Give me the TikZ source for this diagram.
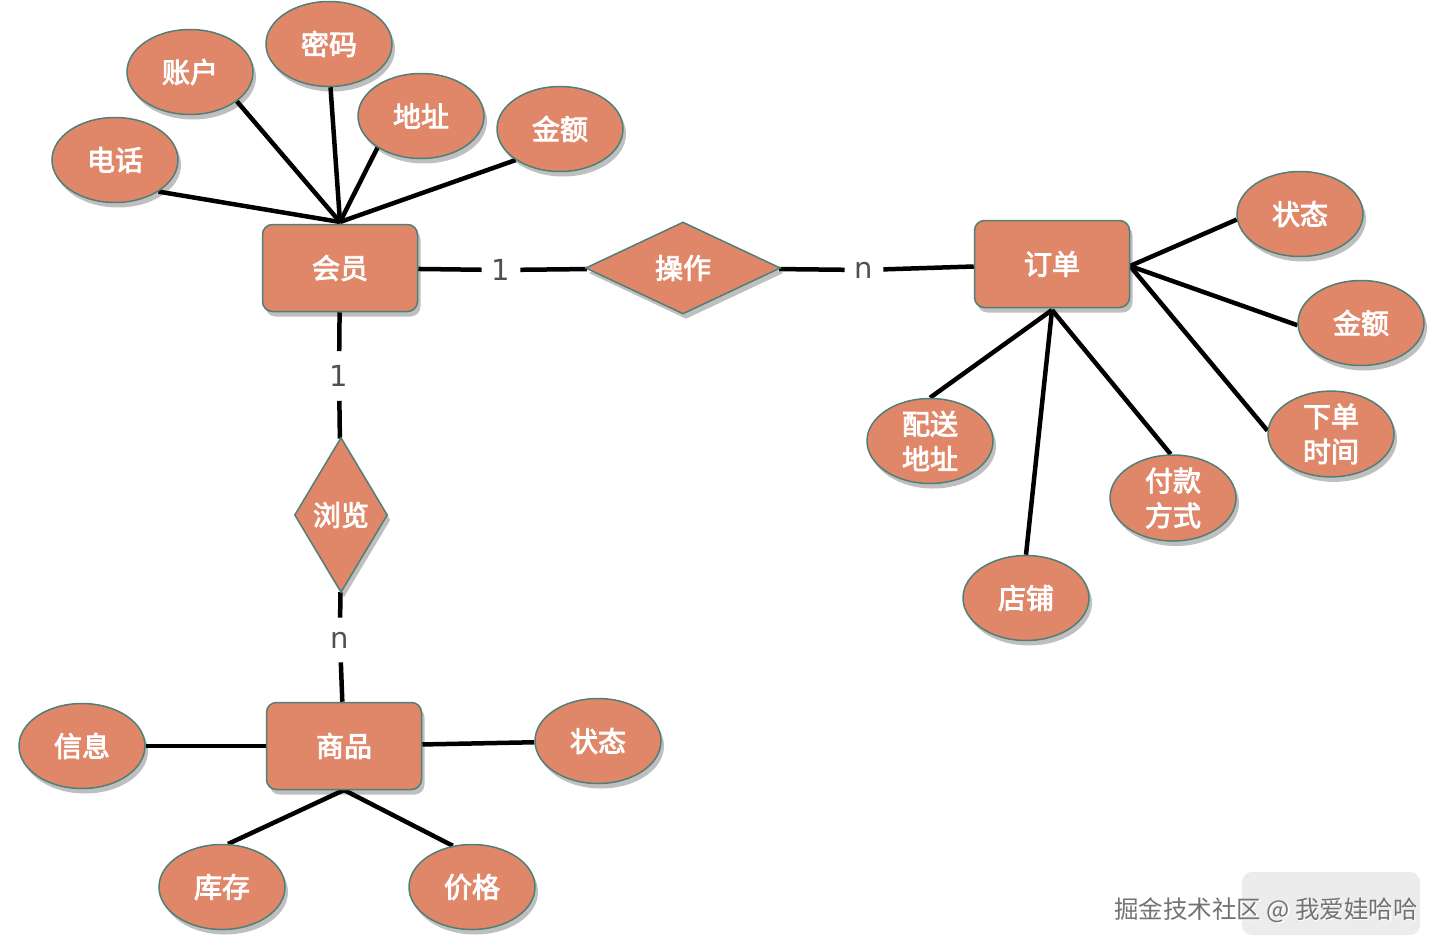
\documentclass[tikz,border=0pt]{standalone}
\usepackage{fontspec}
\newfontfamily\cjk{Noto Sans CJK SC}[AutoFakeBold=3]
\newfontfamily\lblfont{DejaVu Sans}
\usetikzlibrary{shapes.geometric,shadows}
\definecolor{salmon}{HTML}{E0876A}
\definecolor{edgeteal}{HTML}{4F7F76}
\definecolor{lblgray}{HTML}{505050}
\pgfdeclarelayer{bg}
\pgfsetlayers{bg,main}
\tikzset{
  base/.style={fill=salmon, draw=edgeteal, line width=1.5pt, text=white,
    font=\cjk\bfseries\fontsize{28}{32}\selectfont, inner sep=0pt,
    drop shadow={shadow xshift=3pt, shadow yshift=-5pt, opacity=0.25, fill=black}},
  attr/.style={base, ellipse, minimum width=126pt, minimum height=85pt, align=center,
    font=\cjk\bfseries\fontsize{28}{35}\selectfont},
  ent/.style={base, rectangle, rounded corners=10pt, minimum width=155pt, minimum height=87pt},
  rel/.style={base, diamond},
  conn/.style={line width=4.5pt, black},
  card/.style={text=lblgray, font=\lblfont\fontsize{29}{32}\selectfont, inner sep=10pt},
}
\begin{document}
\begin{tikzpicture}[x=1pt,y=-1pt]
\useasboundingbox (0,0) rectangle (1448,950);
% entities
\node[ent] (hy) at (340,268) {会员};
\node[ent] (dd) at (1052,264) {订单};
\node[ent] (sp) at (344,746) {商品};
% relations
\node[rel, minimum width=195pt, minimum height=92pt] (cz) at (683,268) {操作};
\node[rel, minimum width=93pt, minimum height=155pt] (ll) at (341,515) {浏览};
% cardinality labels
\node[card] (c1) at (501,270) {1};
\node[card] (c2) at (864,270) {n};
\node[card, inner sep=14pt] (c3) at (339,376) {1};
\node[card, inner sep=14pt] (c4) at (340,640) {n};
% member attributes
\node[attr] (dh) at (115,160) {电话};
\node[attr] (zh) at (190,72) {账户};
\node[attr] (mm) at (329,44) {密码};
\node[attr] (dz) at (421,116) {地址};
\node[attr] (je) at (560,129) {金额};
% order attributes
\node[attr] (zt) at (1300,214) {状态};
\node[attr] (je2) at (1361,323) {金额};
\node[attr] (xd) at (1331,434) {下单\\时间};
\node[attr] (fk) at (1173,498) {付款\\方式};
\node[attr] (dp) at (1026,598) {店铺};
\node[attr] (ps) at (930,441) {配送\\地址};
% product attributes
\node[attr] (xx) at (82,746) {信息};
\node[attr] (zt2) at (598,741) {状态};
\node[attr] (kc) at (222,887) {库存};
\node[attr] (jg) at (472,887) {价格};
% connectors
\coordinate (hyt) at (340,222);
\coordinate (ddr) at (1130,266);
\coordinate (ddb) at (1052,310);
\coordinate (spb) at (344,790);
\begin{pgfonlayer}{bg}
\draw[conn] (hyt) -- (dh.-36);
\draw[conn] (hyt) -- (zh.-32);
\draw[conn] (hyt) -- (mm.-88);
\draw[conn] (hyt) -- (dz.-144);
\draw[conn] (hyt) -- (je.-145);
\draw[conn] (ddr) -- (zt.185);
\draw[conn] (ddr) -- (je2.182);
\draw[conn] (ddr) -- (xd.177);
\draw[conn] (ddb) -- (ps.90);
\draw[conn] (ddb) -- (dp.90);
\draw[conn] (ddb) -- (fk.93);
\draw[conn] (spb) -- (kc.82);
\draw[conn] (spb) -- (jg.115);
\draw[conn] (hy) -- (c1);
\draw[conn] (c1) -- (cz);
\draw[conn] (cz) -- (c2);
\draw[conn] (c2) -- (dd);
\draw[conn] (hy) -- (c3);
\draw[conn] (c3) -- (ll);
\draw[conn] (ll) -- (c4);
\draw[conn] (c4) -- (sp);
\draw[conn] (sp) -- (xx);
\draw[conn] (sp) -- (zt2);
\end{pgfonlayer}
% watermark
\fill[gray!15, rounded corners=10pt] (1242,872) rectangle (1420,935);
\node[text=white, font=\cjk\fontsize{24.5}{26}\selectfont] (wm2) at (1267.5,911.5) {掘金技术社区 @ 我爱娃哈哈};
\node[text=gray!90!black, font=\cjk\fontsize{24.5}{26}\selectfont] (wm) at (1266,910) {掘金技术社区 @ 我爱娃哈哈};
\end{tikzpicture}
\end{document}
